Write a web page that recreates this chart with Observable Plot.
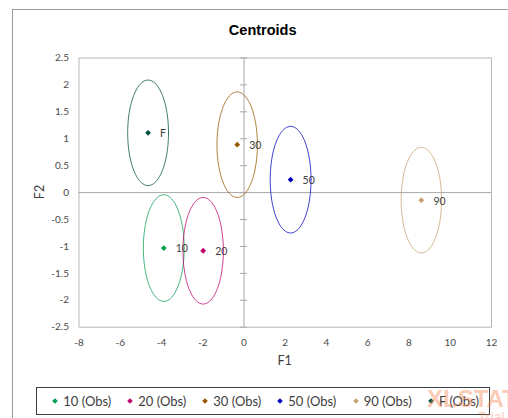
<!DOCTYPE html>
<html>
<head>
<meta charset="utf-8">
<script src="https://cdn.jsdelivr.net/npm/d3@7"></script>
<script src="https://cdn.jsdelivr.net/npm/@observablehq/plot@0.6"></script>
<style>
  html, body { margin: 0; padding: 0; background: #fff; }
  #wrap { position: relative; width: 508px; height: 418px; overflow: hidden; background: #fff; }
  #wrap svg.plot { position: absolute; left: 0; top: 0; }
  .ov { position: absolute; white-space: nowrap; }
</style>
</head>
<body>
<div id="wrap"></div>
<script>
// ---- data ----
const groups = ["10", "20", "30", "50", "90", "F"];
const f1 = [-3.89, -1.98, -0.33, 2.26, 8.6, -4.65];
const f2 = [-1.03, -1.08, 0.89, 0.24, -0.14, 1.11];
const ellipseRx = [0.99, 0.98, 0.98, 0.99, 0.98, 0.99];
const ellipseRy = [0.99, 0.99, 0.98, 0.99, 0.98, 0.98];
const colors = ["#00a050", "#c0006a", "#955a00", "#0000c0", "#c8a070", "#00503e"];
const xTicks = [-8, -6, -4, -2, 0, 2, 4, 6, 8, 10, 12];
const yTicks = [-2.5, -2, -1.5, -1, -0.5, 0, 0.5, 1, 1.5, 2, 2.5];
const legendLabels = ["10 (Obs)", "20 (Obs)", "30 (Obs)", "50 (Obs)", "90 (Obs)", "F (Obs)"];

const centroids = groups.map((g, i) => ({g, x: f1[i], y: f2[i]}));
const ellipsePts = [];
groups.forEach((g, i) => {
  const n = 96;
  for (let k = 0; k <= n; k++) {
    const t = (k / n) * 2 * Math.PI;
    ellipsePts.push({g, x: f1[i] + ellipseRx[i] * Math.cos(t), y: f2[i] + ellipseRy[i] * Math.sin(t)});
  }
});

const W = 508, H = 418;
const mL = 78.5, mR = 17, mT = 57.5, mB = 91.3;

const chart = Plot.plot({
  width: W, height: H,
  marginLeft: mL, marginRight: mR, marginTop: mT, marginBottom: mB,
  style: {fontFamily: "Lato, sans-serif", fontSize: "10px", color: "#4a4a4a", background: "transparent"},
  x: {domain: [-8, 12]},
  y: {domain: [-2.5, 2.5]},
  color: {domain: groups, range: colors},
  marks: [
    Plot.frame({stroke: "#b8b8b8"}),
    Plot.ruleY([0], {stroke: "#a8a8a8"}),
    Plot.ruleX([0], {stroke: "#a8a8a8"}),
    Plot.ruleY(yTicks, {x1: -0.17, x2: 0.17, stroke: "#a8a8a8"}),
    Plot.axisX({ticks: xTicks, tickSize: 0, tickPadding: 11.5, label: null, tickFormat: d => String(d)}),
    Plot.axisY({ticks: yTicks, tickSize: 0, tickPadding: 10, label: null, tickFormat: d => String(d)}),
    Plot.line(ellipsePts, {x: "x", y: "y", z: "g", stroke: "g", strokeWidth: 1, strokeOpacity: 0.75}),
    Plot.dot(centroids, {x: "x", y: "y", fill: "g", r: 2.6, symbol: d3.symbolDiamond2}),
    Plot.text(centroids, {x: "x", y: "y", text: "g", dx: 12, dy: 1, textAnchor: "start", fill: "#404040", fontSize: 10.5})
  ]
});
chart.classList.add("plot");

const wrap = document.getElementById("wrap");

// outer chart border
const border = document.createElement("div");
border.className = "ov";
Object.assign(border.style, {left: "12px", top: "9px", width: "600px", height: "500px",
  borderLeft: "1px solid #9a9a9a", borderTop: "1px solid #9a9a9a"});
wrap.appendChild(border);

wrap.appendChild(chart);

function addText(txt, x, y, css, anchor = "center") {
  const d = document.createElement("div");
  d.className = "ov";
  d.textContent = txt;
  Object.assign(d.style, css);
  d.style.left = x + "px";
  d.style.top = y + "px";
  d.style.transform = (anchor === "center" ? "translate(-50%,-50%)" : "translate(0,-50%)") + (css.rotate ? " rotate(-90deg)" : "");
  wrap.appendChild(d);
  return d;
}

addText("Centroids", 262.7, 30, {fontFamily: "'Liberation Sans', Arial, sans-serif", fontWeight: "bold", fontSize: "14.5px", color: "#000"});
addText("F1", 284.7, 359.5, {fontFamily: "Lato, sans-serif", fontSize: "12.5px", color: "#404040"});
addText("F2", 39, 192, {fontFamily: "Lato, sans-serif", fontSize: "12.5px", color: "#404040", rotate: true});

// legend
const leg = document.createElement("div");
leg.className = "ov";
Object.assign(leg.style, {left: "36px", top: "387px", width: "452px", height: "26px", border: "1px solid #404040", background: "#fff"});
wrap.appendChild(leg);
const legX = [55.3, 130.3, 205.3, 280.3, 355.7, 431];
groups.forEach((g, i) => {
  const s = document.createElementNS("http://www.w3.org/2000/svg", "svg");
  s.setAttribute("width", 8); s.setAttribute("height", 8);
  s.setAttribute("class", "ov");
  s.style.left = (legX[i] - 4) + "px";
  s.style.top = (400.5 - 4) + "px";
  const p = document.createElementNS("http://www.w3.org/2000/svg", "path");
  p.setAttribute("d", "M4,1.2L6.8,4L4,6.8L1.2,4Z");
  p.setAttribute("fill", colors[i]);
  s.appendChild(p);
  wrap.appendChild(s);
  addText(legendLabels[i], legX[i] + 8, 400.5, {fontFamily: "Lato, sans-serif", fontSize: "13px", color: "#404040"}, "start");
});

// watermark
addText("XLSTAT", 427, 399, {fontFamily: "'Liberation Sans', Arial, sans-serif", fontWeight: "bold", fontSize: "24px", color: "rgba(245,140,90,0.45)"}, "start");
addText("Trial", 478, 416, {fontFamily: "'Liberation Sans', Arial, sans-serif", fontWeight: "bold", fontSize: "13px", color: "rgba(245,140,90,0.35)"}, "start");
</script>
</body>
</html>
